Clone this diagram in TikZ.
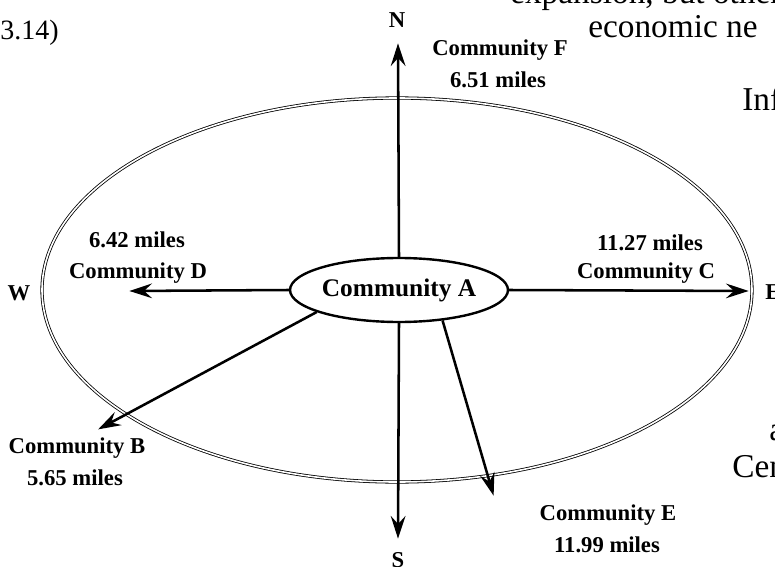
\documentclass[tikz,border=0pt]{standalone}
\usepackage{fontspec}
\setmainfont{Liberation Serif}
\usetikzlibrary{arrows.meta,shapes.geometric}

\begin{document}
\begin{tikzpicture}[x=0.75pt, y=-0.75pt, shorten >=1pt,
center_style/.style={ellipse,draw=black,line width=1.8pt,fill=white,minimum width=141pt,minimum height=48pt,inner sep=0pt,font=\bfseries\fontsize{19}{21}\selectfont},
label_style/.style={inner sep=0pt,font=\bfseries\fontsize{17}{19}\selectfont},
compass_style/.style={inner sep=0pt,font=\bfseries\fontsize{17}{19}\selectfont},
page_style/.style={anchor=base west,inner sep=0pt,font=\fontsize{25}{29}\selectfont},
ring_style/.style={draw=black,double,double distance=1.2pt,line width=0.6pt},
edge_style/.style={draw=black,line width=1.9pt,-{Stealth[length=17pt,width=11pt,inset=6pt]}}]
\useasboundingbox (0,0) rectangle (775,567);
\clip (0,0) rectangle (775,567);

% text of the page round the figure
\node[page_style,font=\fontsize{21}{25}\selectfont] (p1) at (0,40) {3.14)};
\node[page_style] (p2) at (510,4) {expansion, but other};
\node[page_style] (p3) at (588,38) {economic ne};
\node[page_style] (p4) at (742,110) {Inf};
\node[page_style] (p5) at (769,440) {a};
\node[page_style] (p6) at (732,477) {Cen};

% outer ring
\draw[ring_style] (397,290) ellipse [x radius=355, y radius=192];

\node[center_style] (a) at (399,290) {Community A};

% compass points
\node[compass_style] (n) at (397,20) {N};
\node[compass_style] (s) at (398,560) {S};
\node[compass_style] (w) at (19,293) {W};
\node[compass_style,anchor=west] (e) at (765,292) {E};

\coordinate (tn) at (398,42);
\coordinate (ts) at (398,540);
\coordinate (tw) at (128,291);
\coordinate (te) at (750,291);
\coordinate (tb) at (97,430);
\coordinate (tE) at (494,497);

% distances
\node[label_style] (cf) at (500,50) {Community F};
\node[label_style] (df) at (498,80) {6.51 miles};
\node[label_style] (dd) at (137,240) {6.42 miles};
\node[label_style] (cd) at (138,273) {Community D};
\node[label_style] (dc) at (650,243) {11.27 miles};
\node[label_style] (cc) at (646,273) {Community C};
\node[label_style] (cb) at (77,448) {Community B};
\node[label_style] (db) at (75,478) {5.65 miles};
\node[label_style] (ce) at (608,515) {Community E};
\node[label_style] (de) at (607,545) {11.99 miles};

\draw[edge_style]  (a.north) -- (tn);
\draw[edge_style]  (a.south) -- (ts);
\draw[edge_style]  (a.west) -- (tw);
\draw[edge_style]  (a.east) -- (te);
\draw[edge_style]  (a.195) -- (tb);
\draw[edge_style]  (a.-35) -- (tE);

\end{tikzpicture}
\end{document}
